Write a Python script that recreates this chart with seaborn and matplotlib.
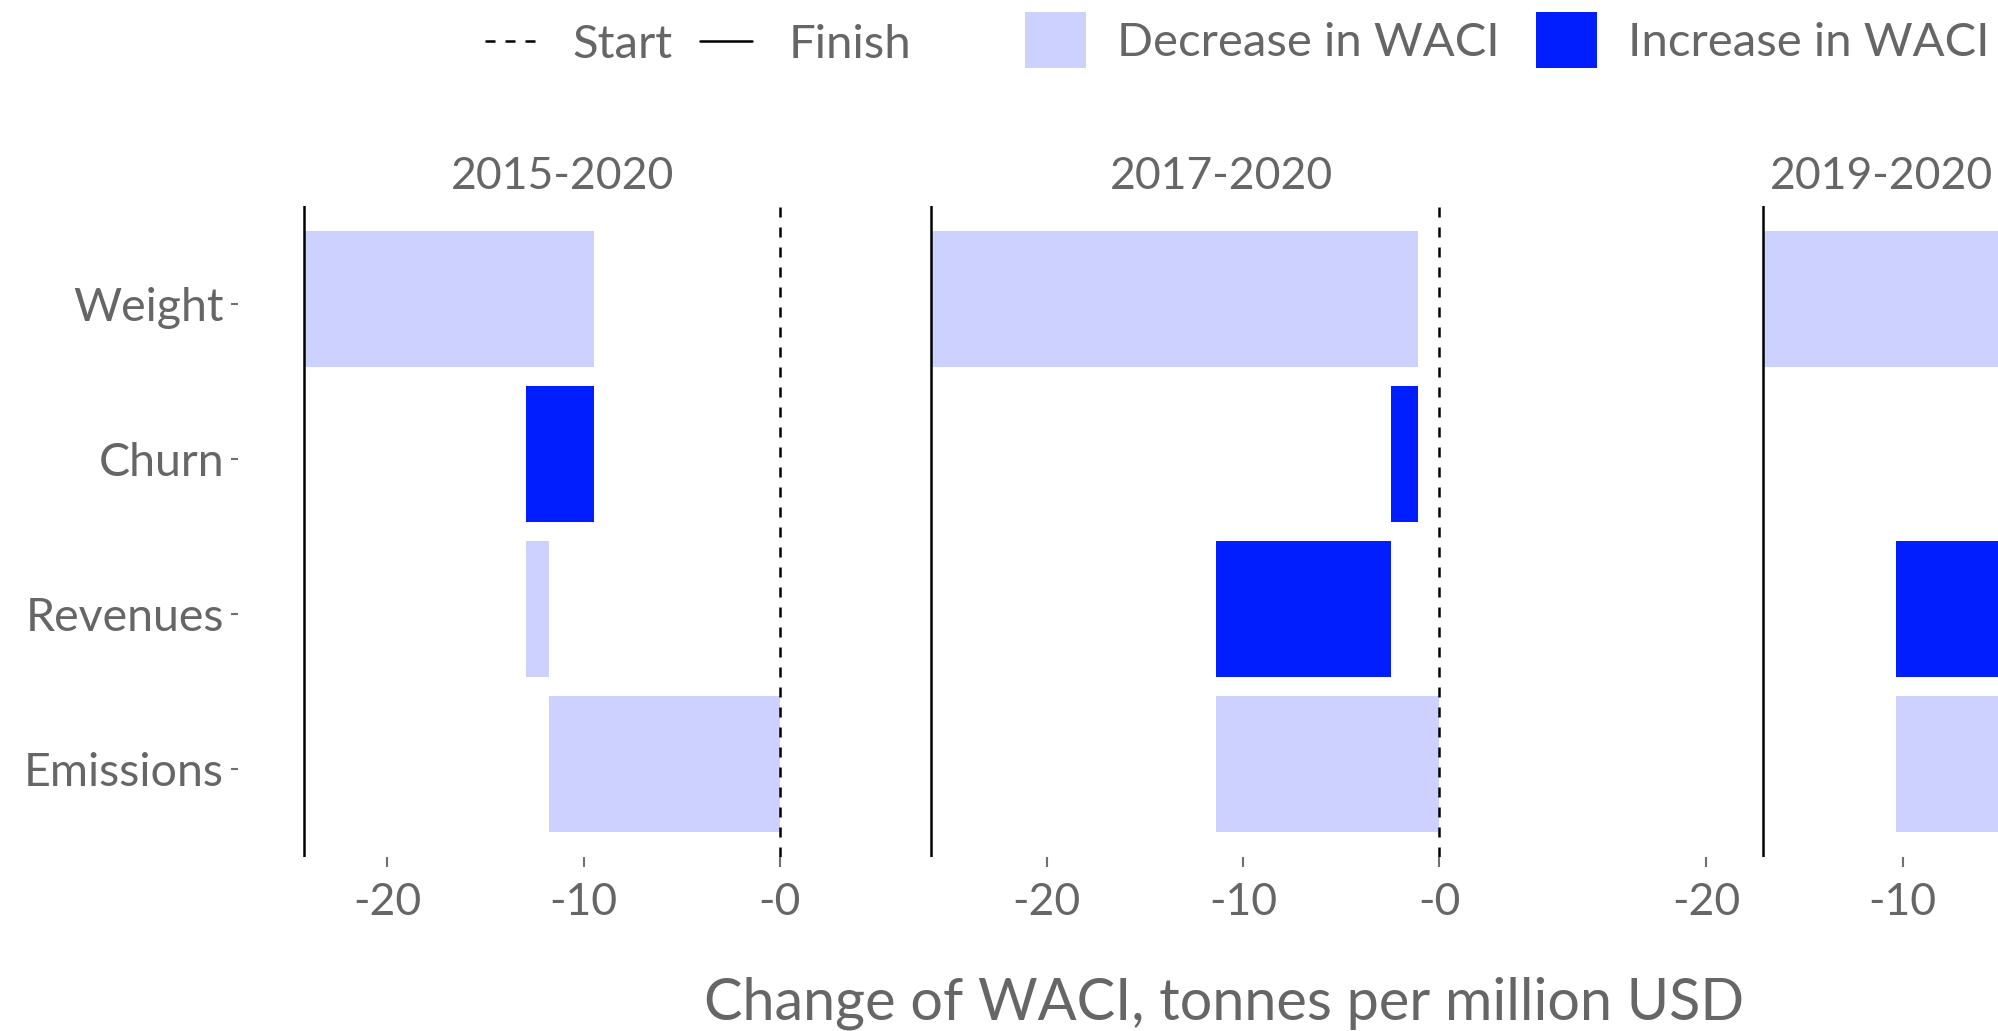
import numpy as np
import pandas as pd
import matplotlib
matplotlib.use("Agg")
import matplotlib.pyplot as plt
from matplotlib.lines import Line2D
from matplotlib.patches import Patch
from matplotlib.ticker import FuncFormatter
import seaborn as sns

# ── Data (waterfall steps) ───────────────────────────
periods = ["2015-2020", "2017-2020", "2019-2020"]
factors = ["Emissions", "Revenues", "Churn", "Weight"]
change_2015 = [-11.78, -1.17, 3.50, -14.82]
change_2017 = [-11.40, 8.94, 1.36, -24.82]
change_2019 = [-10.33, 13.20, 0.90, -20.88]
x_breaks = [-20, -10, 0]
legend_lines = ["Start", "Finish"]
legend_fills = ["Decrease in WACI", "Increase in WACI"]

# ── Style ─────────────────────────────────────────────
LIGHT = "#CCD1FF"
DARK = "#001EFF"
GREY = "#666666"
TICK = "#707070"
FS = 32       # strip titles, x tick labels
FS_LAB = 33.5 # y tick labels
FS_LEG = 34

sns.set_theme(style="white")
plt.rcParams["font.family"] = ["Lato", "DejaVu Sans"]

rows = []
for period, changes in zip(periods, [change_2015, change_2017, change_2019]):
    end = np.cumsum(changes)
    start = end - np.array(changes)
    for f, c, s, e in zip(factors, changes, start, end):
        rows.append(dict(period=period, factor=f, change=c, start=s, end=e))
df = pd.DataFrame(rows)

lo = min(df["start"].min(), df["end"].min())
hi = max(df["start"].max(), df["end"].max())
pad = 0.057 * (hi - lo)
xlim = (lo - pad, hi + pad)

# ── Facets (the third panel runs past the right edge, as in the original) ──
W, H = 1999, 1031
PW = 649
fig = plt.figure(figsize=(W / 100, H / 100), dpi=100)

ypos = {f: i for i, f in enumerate(factors)}
for i, period in enumerate(periods):
    left = 238 + i * 659.5
    ax = fig.add_axes([left / W, 1 - 857 / H, PW / W, 651 / H])
    d = df[df["period"] == period]
    colors = [DARK if c > 0 else LIGHT for c in d["change"]]
    ax.barh([ypos[f] for f in d["factor"]], d["change"], left=d["start"],
            height=0.88, color=colors, linewidth=0, zorder=2)
    ax.axvline(0, color="black", lw=1.8, ls=(0, (4, 4)), zorder=3)
    ax.axvline(d["end"].iloc[-1], color="black", lw=1.8, zorder=3)

    ax.set_xlim(*xlim)
    ax.set_ylim(-0.6, 3.6)
    # only keep breaks that land inside the saved image
    x_vis = xlim[0] + (W - left) / PW * (xlim[1] - xlim[0])
    ax.set_xticks([b for b in x_breaks if b < x_vis - 1])
    ax.xaxis.set_major_formatter(FuncFormatter(lambda v, p: f"-{abs(v):.0f}"))
    if i == 0:
        ax.set_yticks(np.arange(len(factors)) - 0.035)
        ax.set_yticklabels(factors)
    else:
        ax.set_yticks([])
    ax.tick_params(axis="x", length=7, width=1.5, color=TICK, labelcolor=GREY,
                   labelsize=FS, pad=11, bottom=True)
    ax.tick_params(axis="y", length=5, width=1.5, color=TICK, labelcolor=GREY,
                   labelsize=FS_LAB, pad=5, left=True)
    for s in ax.spines.values():
        s.set_visible(False)
    ax.set_title(period, fontsize=FS, color=GREY, pad=12)

fig.text(1224 / W, 1 - 1020 / H, "Change of WACI, tonnes per million USD",
         ha="center", va="baseline", fontsize=41.5, color=GREY)

# ── Legends ───────────────────────────────────────────
line_handles = [Line2D([], [], color="black", lw=1.8, ls=(0, (4, 4))),
                Line2D([], [], color="black", lw=1.8)]
fig.legend(handles=line_handles, labels=legend_lines, loc="center left",
           bbox_to_anchor=(485 / W, 1 - 45 / H), ncol=2, frameon=False,
           fontsize=FS_LEG, handlelength=1.1, handletextpad=0.76, columnspacing=0.58,
           borderpad=0, borderaxespad=0, labelcolor=GREY)

fill_handles = [Patch(facecolor=LIGHT, linewidth=0), Patch(facecolor=DARK, linewidth=0)]
fig.legend(handles=fill_handles, labels=legend_fills, loc="center left",
           bbox_to_anchor=(1025 / W, 1 - 40 / H), ncol=2, frameon=False,
           fontsize=FS_LEG, handlelength=1.29, handleheight=1.446, handletextpad=0.66,
           columnspacing=0.76, borderpad=0, borderaxespad=0, labelcolor=GREY)

fig.savefig("out.png", dpi=100)
